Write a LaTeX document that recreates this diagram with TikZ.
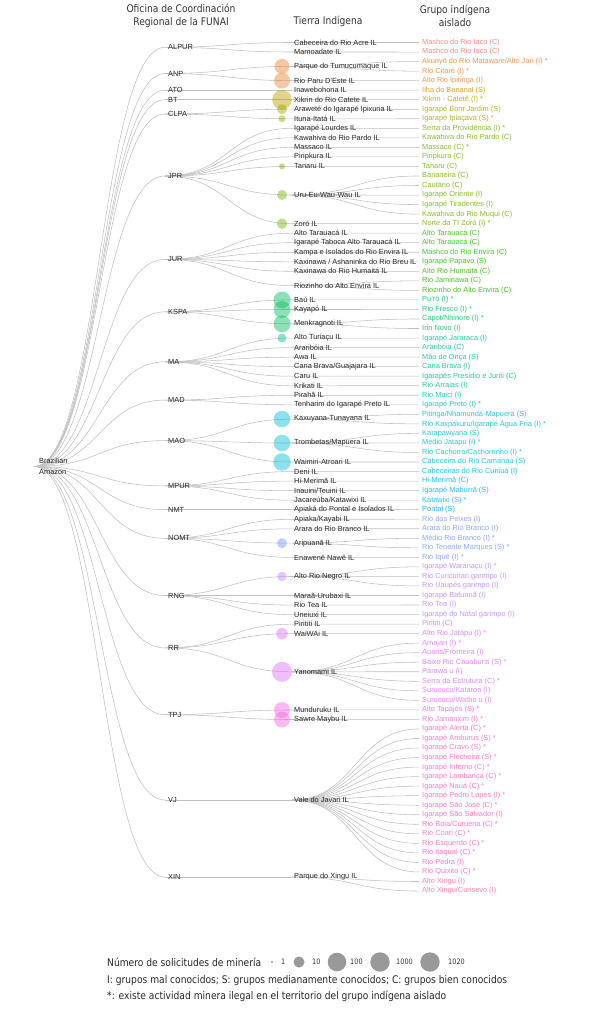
\documentclass[tikz,border=0pt]{standalone}
\usepackage{fontspec}
\setmainfont{Liberation Sans}
\newfontfamily\hdfont[FakeStretch=0.87]{DejaVu Sans}
\usetikzlibrary{calc}
\pgfdeclarelayer{background}
\pgfsetlayers{background,main}

% colores por oficina
\definecolor{cALPUR}{HTML}{F8766D}
\definecolor{cANP}{HTML}{EA8331}
\definecolor{cATO}{HTML}{D69100}
\definecolor{cBT}{HTML}{BB9D00}
\definecolor{cCLPA}{HTML}{9CA700}
\definecolor{cJPR}{HTML}{72B000}
\definecolor{cJUR}{HTML}{28B800}
\definecolor{cKSPA}{HTML}{00BD5F}
\definecolor{cMA}{HTML}{00C08E}
\definecolor{cMAD}{HTML}{00C0B2}
\definecolor{cMAO}{HTML}{00BCD4}
\definecolor{cMPUR}{HTML}{00B4EF}
\definecolor{cNMT}{HTML}{00A8FF}
\definecolor{cNOMT}{HTML}{7997FF}
\definecolor{cRNG}{HTML}{B983FF}
\definecolor{cRR}{HTML}{E16FF8}
\definecolor{cTPJ}{HTML}{F763DF}
\definecolor{cVJ}{HTML}{FF62BF}
\definecolor{cXIN}{HTML}{FF6A98}

\begin{document}
\begin{tikzpicture}[
    x=1pt, y=1pt,
    lbl/.style={inner sep=0pt, inner xsep=3pt, anchor=west, font=\fontsize{7.4}{9}\selectfont, text=black!85},
    ofc/.style={lbl},
    iltext/.style={lbl, inner xsep=2pt},
    grp/.style={lbl},
    hdr/.style={align=center, inner sep=0pt, font=\hdfont\fontsize{10.5}{12.5}\selectfont, text=black!80},
    leg/.style={anchor=west, inner sep=0pt, font=\hdfont\fontsize{10.5}{12}\selectfont, text=black!85},
    legnum/.style={anchor=west, inner sep=0pt, font=\hdfont\fontsize{7.5}{9}\selectfont, text=black!80},
    bub/.style={circle, inner sep=0pt, draw=none, fill opacity=0.45},
    key/.style={circle, inner sep=0pt, draw=none, fill=black!40},
    link/.style={draw=black!25, line width=0.55pt},
    diag/.style={to path={let \p1=(\tikztostart), \p2=(\tikztotarget) in
        .. controls ({0.5*(\x1+\x2)},\y1) and ({0.5*(\x1+\x2)},\y2) .. (\tikztotarget)}}
]
\useasboundingbox (0,0) rectangle (609,-1024);

% cabeceras
\node[hdr] (hofc) at (181,-16) {Oficina de Coordinación\\Regional de la FUNAI};
\node[hdr] (hti) at (328,-21) {Tierra Indígena};
\node[hdr] (hgrp) at (455,-16) {Grupo indígena\\aislado};

% raiz
\node[lbl, align=left, inner xsep=5pt, font=\fontsize{7.4}{11}\selectfont] (root) at (34,-466.5) {Brazilian\\Amazon};

% oficinas
\foreach \ofc/\ypos in {ALPUR/47.3, ANP/73.5, ATO/90.2, BT/99.7, CLPA/114.0, JPR/176.0,
    JUR/259.4, KSPA/311.8, MA/361.9, MAD/400.1, MAO/440.6, MPUR/485.9, NMT/509.7,
    NOMT/538.3, RNG/595.5, RR/647.9, TPJ/714.7, VJ/800.0, XIN/877.0}{
  \node[ofc] (\ofc) at (165,-\ypos) {\ofc};
  \begin{pgfonlayer}{background}
    \draw[link] (root.west) to[diag] (\ofc.west);
  \end{pgfonlayer}
}

% grupos aislados
\foreach \ofc/\txt [count=\i] in {
    ALPUR/{Mashco do Rio Iaco (C)}, ALPUR/{Mashco do Rio Iaco (C)},
    ANP/{Akunyö do Rio Mataware/Alto Jari (I) *}, ANP/{Rio Citaré (I) *}, ANP/{Alto Rio Ipitinga (I)},
    ATO/{Ilha do Bananal (S)}, BT/{Xikrin - Catetê (I) *},
    CLPA/{Igarapé Bom Jardim (S)}, CLPA/{Igarapé Ipiaçava (S) *},
    JPR/{Serra da Providência (I) *}, JPR/{Kawahiva do Rio Pardo (C)}, JPR/{Massaco (C) *},
    JPR/{Piripkura (C)}, JPR/{Tanaru (C)}, JPR/{Bananeira (C)}, JPR/{Cautário (C)},
    JPR/{Igarapé Oriente (I)}, JPR/{Igarapé Tiradentes (I)}, JPR/{Kawahiva do Rio Muqui (C)},
    JPR/{Norte da TI Zoró (I) *},
    JUR/{Alto Tarauacá (C)}, JUR/{Alto Tarauacá (C)}, JUR/{Mashco do Rio Envira (C)},
    JUR/{Igarapé Papavo (S)}, JUR/{Alto Rio Humaitá (C)}, JUR/{Rio Jaminawa (C)},
    JUR/{Riozinho do Alto Envira (C)},
    KSPA/{Pu'rö (I) *}, KSPA/{Rio Fresco (I) *}, KSPA/{Capot/Nhinore (I) *}, KSPA/{Irin Novo (I)},
    MA/{Igarapé Jararaca (I)}, MA/{Araribóia (C)}, MA/{Mão de Onça (S)}, MA/{Cana Brava (I)},
    MA/{Igarapés Presídio e Juriti (C)}, MA/{Rio Arraias (I)},
    MAD/{Rio Maici (I)}, MAD/{Igarapé Preto (I) *},
    MAO/{Pitinga/Nhamundá-Mapuera (S)}, MAO/{Rio Kaxpakuru/Igarapé Água Fria (I) *},
    MAO/{Karapawyana (S)}, MAO/{Médio Jatapu (I) *}, MAO/{Rio Cachorro/Cachorrinho (I) *},
    MAO/{Cabeceira do Rio Camanaú (S)},
    MPUR/{Cabeceiras do Rio Cuniuá (I)}, MPUR/{Hi-Merimã (C)}, MPUR/{Igarapé Maburrã (S)},
    MPUR/{Katawixi (S) *},
    NMT/{Pontal (S)},
    NOMT/{Rio dos Peixes (I)}, NOMT/{Arara do Rio Branco (I)}, NOMT/{Médio Rio Branco (I) *},
    NOMT/{Rio Tenente Marques (S) *}, NOMT/{Rio Iquê (I) *},
    RNG/{Igarapé Waranaçu (I) *}, RNG/{Rio Curicuriari garimpo (I)}, RNG/{Rio Uaupés garimpo (I)},
    RNG/{Igarapé Bafuanã (I)}, RNG/{Rio Tea (I)}, RNG/{Igarapé do Natal garimpo (I)},
    RR/{Pirititi (C)}, RR/{Alto Rio Jatapu (I) *}, RR/{Amajari (I) *}, RR/{Auaris/Fronteira (I)},
    RR/{Baixo Rio Cauaburis (S) *}, RR/{Parawa u (I)}, RR/{Serra da Estrutura (C) *},
    RR/{Surucucu/Kataroa (I)}, RR/{Surucucu/Watho u (I)},
    TPJ/{Alto Tapajós (S) *}, TPJ/{Rio Jamanxim (I) *},
    VJ/{Igarapé Alerta (C) *}, VJ/{Igarapé Amburus (S) *}, VJ/{Igarapé Cravo (S) *},
    VJ/{Igarapé Flecheira (S) *}, VJ/{Igarapé Inferno (C) *}, VJ/{Igarapé Lambança (C) *},
    VJ/{Igarapé Nauá (C) *}, VJ/{Igarapé Pedro Lopes (I) *}, VJ/{Igarapé São José (C) *},
    VJ/{Igarapé São Salvador (I)}, VJ/{Rio Boia/Curuena (C) *}, VJ/{Rio Coari (C) *},
    VJ/{Rio Esquerdo (C) *}, VJ/{Rio Itaquaí (C) *}, VJ/{Rio Pedra (I)}, VJ/{Rio Quixito (C) *},
    XIN/{Alto Xingu (I)}, XIN/{Alto Xingu/Curisevo (I)}}
  \node[grp, text=c\ofc!85] (g\i) at (419,{-42.5-9.534*(\i-1)}) {\txt};

% tierras indigenas: oficina / nombre / y / radio / primer y ultimo grupo
\foreach \ofc/\txt/\ypos/\rad/\gfirst/\glast [count=\i] in {
    ALPUR/{Cabeceira do Rio Acre IL}/42.5/0/1/1, ALPUR/{Mamoadate IL}/52.0/0/2/2,
    ANP/{Parque do Tumucumaque IL}/66.4/7.5/3/4, ANP/{Rio Paru D'Este IL}/80.6/8/5/5,
    ATO/{Inawebohona IL}/90.2/0/6/6, BT/{Xikrin do Rio Catete IL}/99.7/9.8/7/7,
    CLPA/{Araweté do Igarapé Ipixuna IL}/109.2/5/8/8, CLPA/{Ituna-Itatá IL}/118.8/3.5/9/9,
    JPR/{Igarapé Lourdes IL}/128.3/0/10/10, JPR/{Kawahiva do Rio Pardo IL}/137.8/0/11/11,
    JPR/{Massaco IL}/147.4/0/12/12, JPR/{Piripkura IL}/156.9/0/13/13,
    JPR/{Tanaru IL}/166.4/3/14/14, JPR/{Uru-Eu-Wau-Wau IL}/195.0/5/15/19,
    JPR/{Zoró IL}/223.7/5.2/20/20,
    JUR/{Alto Tarauacá IL}/233.2/0/21/21, JUR/{Igarapé Taboca Alto Tarauacá IL}/242.7/0/22/22,
    JUR/{Kampa e Isolados do Rio Envira IL}/252.3/0/23/23,
    JUR/{Kaxinawa / Ashaninka do Rio Breu IL}/261.8/0/24/24,
    JUR/{Kaxinawa do Rio Humaitá IL}/271.3/0/25/25, JUR/{Riozinho do Alto Envira IL}/285.6/0/26/27,
    KSPA/{Baú IL}/299.9/8.5/28/28, KSPA/{Kayapó IL}/309.5/8.5/29/29,
    KSPA/{Menkragnoti IL}/323.8/8.5/30/31,
    MA/{Alto Turiaçu IL}/338.1/4.5/32/32, MA/{Araribóia IL}/347.6/0/33/33,
    MA/{Awa IL}/357.2/0/34/34, MA/{Cana Brava/Guajajara IL}/366.7/0/35/35,
    MA/{Caru IL}/376.2/0/36/36, MA/{Krikati IL}/385.8/0/37/37,
    MAD/{Pirahã IL}/395.3/0/38/38, MAD/{Tenharim do Igarapé Preto IL}/404.8/0/39/39,
    MAO/{Kaxuyana-Tunayana IL}/419.1/8.3/40/41, MAO/{Trombetas/Mapuera IL}/443.0/8.3/42/44,
    MAO/{Waimiri-Atroari IL}/462.0/8.7/45/45,
    MPUR/{Deni IL}/471.6/0/46/46, MPUR/{Hi-Merimã IL}/481.1/0/47/47,
    MPUR/{Inauini/Teuini IL}/490.7/0/48/48, MPUR/{Jacareúba/Katawixi IL}/500.2/0/49/49,
    NMT/{Apiaká do Pontal e Isolados IL}/509.7/0/50/50,
    NOMT/{Apiaka/Kayabi IL}/519.3/0/51/51, NOMT/{Arara do Rio Branco IL}/528.8/0/52/52,
    NOMT/{Aripuanã IL}/543.1/5/53/54, NOMT/{Enawenê Nawê IL}/557.4/0/55/55,
    RNG/{Alto Rio Negro IL}/576.5/4.8/56/58, RNG/{Maraã-Urubaxi IL}/595.5/0/59/59,
    RNG/{Rio Tea IL}/605.1/0/60/60, RNG/{Uneiuxi IL}/614.6/0/61/61,
    RR/{Pirititi IL}/624.2/0/62/62, RR/{WaiWAi IL}/633.7/5.8/63/63,
    RR/{Yanomami IL}/671.8/10/64/70,
    TPJ/{Munduruku IL}/710.0/8/71/71, TPJ/{Sawre Maybu IL}/719.5/8/72/72,
    VJ/{Vale do Javari IL}/800.0/0/73/88,
    XIN/{Parque do Xingu IL}/877.0/0/89/90}{
  \node[bub, minimum size=2*\rad, fill=c\ofc] (B\i) at (282,-\ypos) {};
  \node[iltext] (L\i) at (292,-\ypos) {\txt};
  \begin{pgfonlayer}{background}
    \draw[link] (\ofc.west) to[diag] (L\i.west);
    \foreach \j in {\gfirst,...,\glast}
      \draw[link] (L\i.west) to[diag] (g\j.west);
  \end{pgfonlayer}
}

% leyenda
\node[leg] (legn) at (107,-962) {Número de solicitudes de minería};
\node[key, minimum size=2.4] (k1) at (272,-962) {};
\node[legnum] (n1) at (281,-962) {1};
\node[key, minimum size=11] (k10) at (299,-962) {};
\node[legnum] (n10) at (312,-962) {10};
\node[key, minimum size=18.6] (k100) at (337,-962) {};
\node[legnum] (n100) at (350,-962) {100};
\node[key, minimum size=19.4] (k1000) at (380,-962) {};
\node[legnum] (n1000) at (396,-962) {1000};
\node[key, minimum size=19.4] (k1020) at (430,-962) {};
\node[legnum] (n1020) at (448,-962) {1020};
\node[leg] (legi) at (107,-980.5) {I: grupos mal conocidos; S: grupos medianamente conocidos; C: grupos bien conocidos};
\node[leg] (legs) at (107,-996) {*: existe actividad minera ilegal en el territorio del grupo indígena aislado};

\end{tikzpicture}
\end{document}
